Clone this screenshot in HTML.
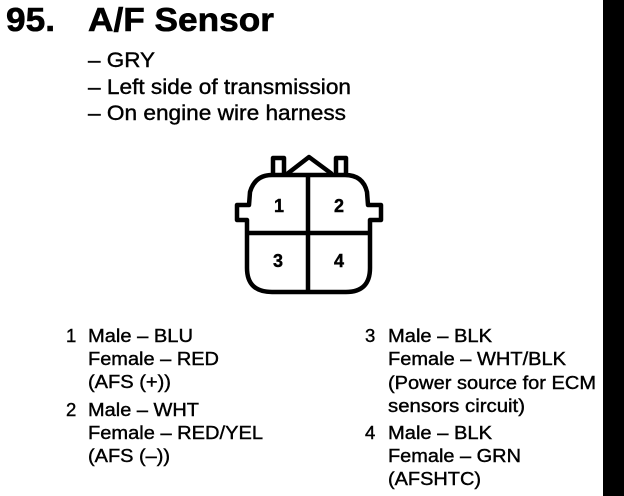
<!DOCTYPE html>
<html><head><meta charset="utf-8">
<style>
html,body{margin:0;padding:0;background:#fff}
svg{display:block}
text{font-family:"Liberation Sans",sans-serif;fill:#000;stroke:#000;stroke-width:.4px}
.b{font-size:21px}
.s{font-size:18.5px}
.t{font-size:33px;font-weight:bold;stroke-width:.6px}
.n{font-size:18px;font-weight:bold}
</style></head>
<body>
<svg width="624" height="496" viewBox="0 0 624 496" xmlns="http://www.w3.org/2000/svg">
<rect width="624" height="496" fill="#fff"/>
<rect x="603" y="0" width="21" height="496" fill="#000"/>
<text class="t" x="6" y="31" textLength="49" lengthAdjust="spacingAndGlyphs">95.</text>
<text class="t" x="88" y="31" textLength="186" lengthAdjust="spacingAndGlyphs">A/F Sensor</text>
<text class="b" x="88" y="67" textLength="67" lengthAdjust="spacingAndGlyphs">– GRY</text>
<text class="b" x="88" y="94" textLength="263" lengthAdjust="spacingAndGlyphs">– Left side of transmission</text>
<text class="b" x="88" y="120" textLength="258" lengthAdjust="spacingAndGlyphs">– On engine wire harness</text>

<g fill="none" stroke="#000" stroke-width="4.5" stroke-linejoin="round">
<path d="M272 175 H345 Q363 175 367 192 L368 205 H381 V220 H370 V268 Q370 292 346 292 H272 Q247 292 247 268 V220 H237 V205 H249 L250 192 Q255 175 272 175 Z"/>
<path d="M273 174 V158 H284 V174"/>
<path d="M336 174 V158 H346 V174"/>
<path d="M287 174 L309 157 L332 174"/>
<path d="M308 175 V292"/>
<path d="M247 233 H370"/>
</g>
<text class="n" x="274" y="212">1</text>
<text class="n" x="334" y="212">2</text>
<text class="n" x="273" y="267">3</text>
<text class="n" x="334" y="267">4</text>

<g class="s">
<text class="s" x="66" y="342">1</text>
<text class="s" x="88" y="342" textLength="105" lengthAdjust="spacingAndGlyphs">Male – BLU</text>
<text class="s" x="88" y="365" textLength="131" lengthAdjust="spacingAndGlyphs">Female – RED</text>
<text class="s" x="88" y="388" textLength="83" lengthAdjust="spacingAndGlyphs">(AFS (+))</text>
<text class="s" x="66" y="416">2</text>
<text class="s" x="88" y="416" textLength="111" lengthAdjust="spacingAndGlyphs">Male – WHT</text>
<text class="s" x="88" y="439" textLength="175" lengthAdjust="spacingAndGlyphs">Female – RED/YEL</text>
<text class="s" x="88" y="462" textLength="82" lengthAdjust="spacingAndGlyphs">(AFS (–))</text>

<text class="s" x="365" y="342">3</text>
<text class="s" x="388" y="342" textLength="104" lengthAdjust="spacingAndGlyphs">Male – BLK</text>
<text class="s" x="388" y="365" textLength="178" lengthAdjust="spacingAndGlyphs">Female – WHT/BLK</text>
<text class="s" x="388" y="389" textLength="208" lengthAdjust="spacingAndGlyphs">(Power source for ECM</text>
<text class="s" x="388" y="412" textLength="137" lengthAdjust="spacingAndGlyphs">sensors circuit)</text>
<text class="s" x="365" y="439">4</text>
<text class="s" x="388" y="439" textLength="104" lengthAdjust="spacingAndGlyphs">Male – BLK</text>
<text class="s" x="388" y="462" textLength="133" lengthAdjust="spacingAndGlyphs">Female – GRN</text>
<text class="s" x="388" y="485" textLength="93" lengthAdjust="spacingAndGlyphs">(AFSHTC)</text>
</g>
</svg>
</body></html>
